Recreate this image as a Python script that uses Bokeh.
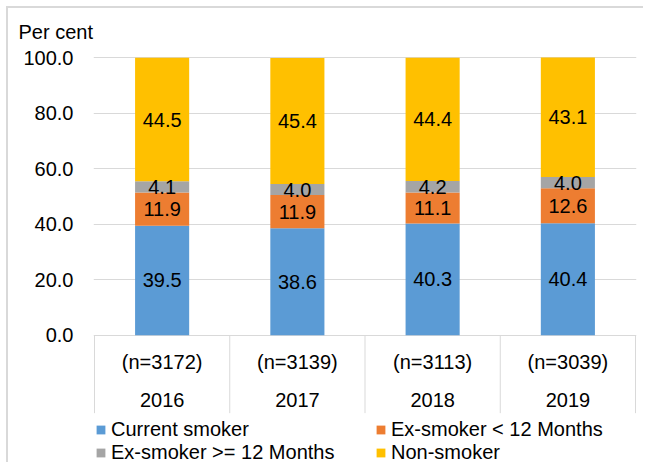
from bokeh.plotting import figure
from bokeh.models import (ColumnDataSource, FixedTicker, NumeralTickFormatter, Legend,
                          LegendItem, Title, Range1d)
from bokeh.core.properties import value
from bokeh.embed import file_html
from bokeh.resources import INLINE

# Smoking status shares by survey year (per cent)
years = ["2016", "2017", "2018", "2019"]
sample_sizes = ["(n=3172)", "(n=3139)", "(n=3113)", "(n=3039)"]
current_smoker = [39.5, 38.6, 40.3, 40.4]
ex_smoker_lt12 = [11.9, 11.9, 11.1, 12.6]
ex_smoker_ge12 = [4.1, 4.0, 4.2, 4.0]
non_smoker = [44.5, 45.4, 44.4, 43.1]

series_names = ["Current smoker", "Ex-smoker < 12 Months", "Ex-smoker >= 12 Months", "Non-smoker"]
series_keys = ["cur", "exlt", "exge", "non"]
series_vals = [current_smoker, ex_smoker_lt12, ex_smoker_ge12, non_smoker]
colors = ["#5B9BD5", "#ED7D31", "#A5A5A5", "#FFC000"]
y_ticks = [0, 20, 40, 60, 80, 100]

FONT = "Liberation Sans"
FS = "20px"
GRID = "#d9d9d9"

xs = [i + 0.5 for i in range(len(years))]
data = {"x": xs}
for k, v in zip(series_keys, series_vals):
    data[k] = v
source = ColumnDataSource(data)

px = 1 / 135.25
p = figure(width=637, height=456, output_backend="svg", toolbar_location=None,
           x_range=Range1d(-px, len(years) + px), y_range=Range1d(-46.61, 100.47),
           min_border_left=85, min_border_right=9, min_border_top=48, min_border_bottom=0)
p.styles = {"margin-left": "6px", "margin-top": "6px",
            "border-left": "2px solid #d9d9d9", "border-top": "2px solid #d9d9d9"}
p.outline_line_color = None
p.background_fill_color = "white"
p.border_fill_color = "white"

# unit label above the value axis
p.add_layout(Title(text="Per cent", align="left", offset=-75, standoff=24,
                   vertical_align="top",
                   text_font=FONT, text_font_size=FS, text_font_style="normal",
                   text_color="black"), "above")

# axes
p.xaxis.visible = False
yax = p.yaxis[0]
yax.ticker = FixedTicker(ticks=y_ticks)
yax.formatter = NumeralTickFormatter(format="0.0")
yax.axis_line_color = None
yax.major_tick_line_color = None
yax.minor_tick_line_color = None
yax.major_tick_out = 0
yax.major_tick_in = 0
yax.major_label_standoff = 20
yax.major_label_text_font = FONT
yax.major_label_text_font_size = FS
yax.major_label_text_color = "black"

p.xgrid.visible = False
p.ygrid.ticker = FixedTicker(ticks=y_ticks)
p.ygrid.grid_line_color = GRID
p.ygrid.grid_line_width = 1

# stacked bars
renderers = p.vbar_stack(series_keys, x="x", width=0.4, color=colors, line_color=None,
                         source=source)

# segment labels at the middle of each segment
lx, ly, lt = [], [], []
for i in range(len(years)):
    base = 0.0
    for vals in series_vals:
        v = vals[i]
        lx.append(xs[i])
        ly.append(base + v / 2)
        lt.append(f"{v:.1f}")
        base += v
p.text(x=lx, y=ly, text=lt, text_align="center", text_baseline="middle",
       text_font=value(FONT), text_font_size=FS, text_color="black")

# category separators under the baseline
sep_x = list(range(len(years) + 1))
p.segment(x0=sep_x, y0=[0] * len(sep_x), x1=sep_x, y1=[-28.1] * len(sep_x),
          line_color=GRID, line_width=1)

# two-line category labels
p.text(x=xs, y=[-9.73] * len(xs), text=sample_sizes, text_align="center",
       text_baseline="middle", text_font=value(FONT), text_font_size=FS, text_color="black")
p.text(x=xs, y=[-23.18] * len(xs), text=years, text_align="center",
       text_baseline="middle", text_font=value(FONT), text_font_size=FS, text_color="black")

# legend fills column by column, so order items to read row by row
order = [0, 2, 1, 3]
legend = Legend(items=[LegendItem(label=series_names[i], renderers=[renderers[i]]) for i in order],
                ncols=2, location=(2, 0), padding=0, margin=0, spacing=0,
                glyph_width=11, glyph_height=11, label_standoff=5, label_height=23,
                label_width=264, border_line_color=None, background_fill_alpha=0,
                label_text_font=FONT, label_text_font_size=FS, label_text_color="black")
p.add_layout(legend)

open("out.html", "w").write(file_html(p, INLINE))
